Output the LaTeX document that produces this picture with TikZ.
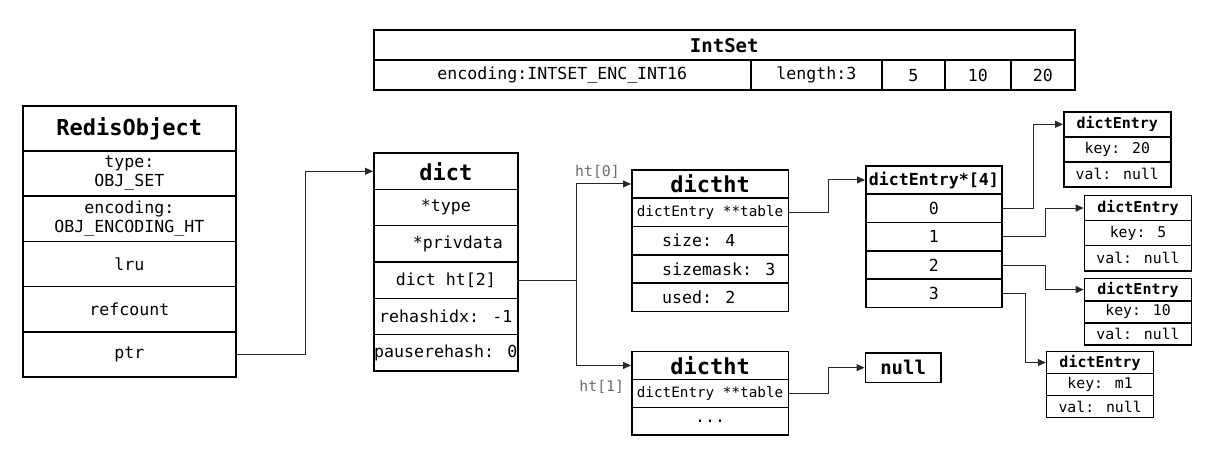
\documentclass[tikz,border=0pt]{standalone}
\usepackage{fontspec}
\setmainfont{DejaVu Sans Mono}
\usetikzlibrary{arrows.meta}
\definecolor{linkgray}{RGB}{40,40,40}
\definecolor{lblgray}{RGB}{110,110,110}
\newcommand{\fsz}[2]{\fontsize{#1}{#2}\selectfont}
\newcommand{\lft}[1]{\makebox[96pt][l]{#1}}
\tikzset{
  cell/.style={draw, line width=1.6pt, inner sep=0pt, anchor=north west, align=center, font=\fsz{16.6}{19}},
  head/.style={cell, font=\fsz{22}{22}\bfseries},
  entryhead/.style={cell, font=\fsz{15}{15}\bfseries},
  entrycell/.style={cell, font=\fsz{14.8}{15}},
  link/.style={draw=linkgray, line width=1pt, -{Triangle[length=8pt,width=7pt]}},
  lbl/.style={text=lblgray, font=\fsz{14.8}{15}, inner sep=0pt},
}

\begin{document}
\begin{tikzpicture}[x=1pt, y=-1pt]
  \useasboundingbox (0,0) rectangle (1212,454);
  % IntSet
  \node[head, font=\fsz{19}{19}\bfseries, minimum width=701pt, minimum height=30pt] (is) at (373,29.3) {IntSet};
  \foreach \txt/\x/\w [count=\i] in {encoding:INTSET\_ENC\_INT16/373/377, length:3/750/131, 5/881/63, 10/944/66, 20/1010/64}
    \node[cell, minimum width=\w pt, minimum height=30pt] (is\i) at (\x,59.3) {\txt};
  % RedisObject
  \node[head, minimum width=213pt, minimum height=45.2pt] (ro0) at (22,105) {RedisObject};
  \foreach \txt [count=\i] in {{type:\\OBJ\_SET}, {encoding:\\OBJ\_ENCODING\_HT}, lru, refcount, ptr}
    \node[cell, minimum width=213pt, minimum height=45.2pt] (ro\i) at (22,105+45.2*\i) {\txt};
  % dict
  \node[head, minimum width=144pt, minimum height=36.3pt] (d0) at (373,152.3) {dict};
  \foreach \txt [count=\i] in {*type, \hspace*{24pt}*privdata, dict ht[2], rehashidx: -1, pauserehash: 0}
    \node[cell, minimum width=144pt, minimum height=36.3pt] (d\i) at (373,152.3+36.3*\i) {\txt};
  % dictht 0
  \node[head, minimum width=156.5pt, minimum height=28.35pt] (h0r0) at (631,169) {dictht};
  \foreach \txt [count=\i] in {{\fsz{14.3}{14}dictEntry **table}, \lft{size: 4}, \lft{sizemask: 3}, \lft{used: 2}}
    \node[cell, minimum width=156.5pt, minimum height=28.35pt] (h0r\i) at (631,169+28.35*\i) {\txt};
  % dictht 1
  \node[head, minimum width=156.5pt, minimum height=27.9pt] (h1r0) at (631,350.7) {dictht};
  \node[cell, font=\fsz{14.3}{14}, minimum width=156.5pt, minimum height=27.9pt] (h1r1) at (631,378.6) {dictEntry **table};
  \node[cell, minimum width=156.5pt, minimum height=27.9pt] (h1r2) at (631,406.5) {...};
  % table
  \node[cell, font=\fsz{16.6}{17}\bfseries, minimum width=136pt, minimum height=28.35pt] (arr) at (865,165) {dictEntry*[4]};
  \foreach \n in {0,...,3}
    \node[cell, minimum width=136pt, minimum height=28.35pt] (arr\n) at (865,193.35+28.35*\n) {\n};
  \node[cell, font=\fsz{19}{19}\bfseries, minimum width=75.5pt, minimum height=29.7pt] (nul) at (864.6,352) {null};
  % entries
  \foreach \k/\x/\y/\h in {20/1063/111/25, 5/1083.7/194.7/25.1, 10/1083.7/277.7/22.2, m1/1045.8/350.7/22} {
    \node[entryhead, minimum width=107pt, minimum height=\h pt] (e\k) at (\x,\y) {dictEntry};
    \node[entrycell, minimum width=107pt, minimum height=\h pt] (e\k k) at (\x,\y+\h) {key: \k};
    \node[entrycell, minimum width=107pt, minimum height=\h pt] (e\k v) at (\x,\y+2*\h) {val: null};
  }
  % labels
  \node[lbl] (l0) at (597.5,171.7) {ht[0]};
  \node[lbl] (l1) at (601.7,386.7) {ht[1]};
  % links
  \draw[link] (ro5.east) -- ++(69,0) |- (d0.west);
  \draw[link] (d3.east) -- ++(58,0) |- (h0r0.west);
  \draw[link] (d3.east) -- ++(58,0) |- (h1r0.west);
  \draw[link] (h0r1.east) -- ++(39,0) |- (arr.west);
  \draw[link] (h1r1.east) -- ++(39,0) |- (nul.west);
  \draw[link] (arr0.east) -- ++(31,0) |- (e20.west);
  \draw[link] (arr1.east) -- ++(42.5,0) |- (e5.west);
  \draw[link] (arr2.east) -- ++(42.5,0) |- (e10.west);
  \draw[link] (arr3.east) -- ++(23,0) |- (em1.west);
\end{tikzpicture}
\end{document}
